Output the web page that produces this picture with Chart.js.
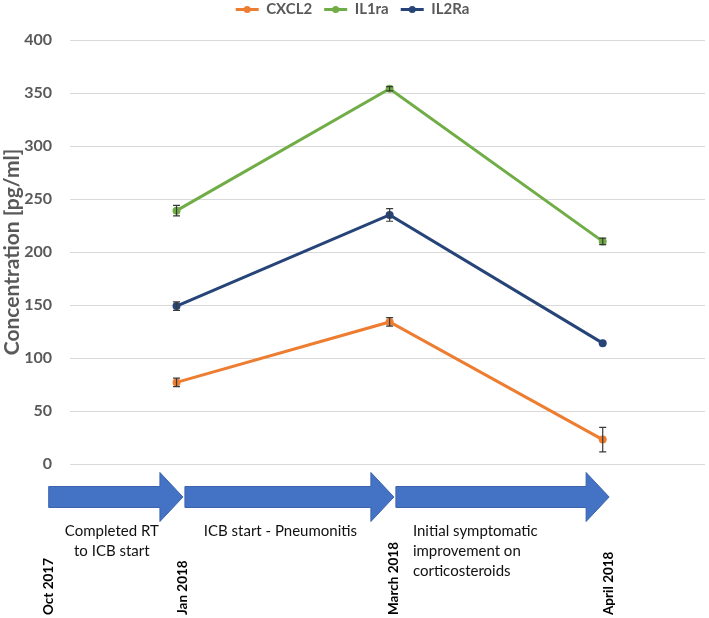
<!DOCTYPE html>
<html>
<head>
<meta charset="utf-8">
<script src="https://cdn.jsdelivr.net/npm/chart.js@4.4.1/dist/chart.umd.min.js"></script>
<style>
  html, body { margin: 0; padding: 0; background: #ffffff; }
  #wrap { width: 709px; height: 618px; position: relative; }
</style>
</head>
<body>
<div id="wrap"><canvas id="c"></canvas></div>
<script>
// ---- data ----
const timelineLabels = ['Oct 2017', 'Jan 2018', 'March 2018', 'April 2018'];
const timelinePos = [0.40, 1.03, 2.02, 3.03];          // where the timeline dates sit on the x scale
const phaseTexts = [
  ['Completed RT', 'to ICB start'],
  ['ICB start - Pneumonitis'],
  ['Initial symptomatic', 'improvement on', 'corticosteroids']
];
const sampleX = [1, 2, 3];                               // Jan 2018, March 2018, April 2018
const cxcl2 = [77, 134, 23];
const cxcl2Err = [4, 4, 11.5];
const il1ra = [239, 354, 210];
const il1raErr = [5, 2, 3];
const il2ra = [149, 235, 114];
const il2raErr = [4, 6, 0];
const yTicks = [0, 50, 100, 150, 200, 250, 300, 350, 400];

const FONT = 'Lato, "Open Sans", sans-serif';
const GREY = '#595959';

function pts(vals) { return vals.map((v, i) => ({ x: sampleX[i], y: v })); }

const errorBarPlugin = {
  id: 'errorBars',
  afterDatasetsDraw(chart) {
    const ctx = chart.ctx, xs = chart.scales.x, ys = chart.scales.y;
    chart.data.datasets.forEach(ds => {
      ds.data.forEach((p, i) => {
        const e = ds.errors[i];
        if (!e) return;
        const x = xs.getPixelForValue(p.x);
        const y1 = ys.getPixelForValue(p.y + e);
        const y2 = ys.getPixelForValue(p.y - e);
        ctx.save();
        ctx.strokeStyle = '#3a3a3a';
        ctx.lineWidth = 1.2;
        ctx.beginPath();
        ctx.moveTo(x, y1); ctx.lineTo(x, y2);
        ctx.moveTo(x - 3.5, y1); ctx.lineTo(x + 3.5, y1);
        ctx.moveTo(x - 3.5, y2); ctx.lineTo(x + 3.5, y2);
        ctx.stroke();
        ctx.restore();
      });
    });
  }
};

// make the legend box a fixed height so the plot starts where the reference's does
const legendHeightPlugin = {
  id: 'legendHeight',
  beforeLayout(chart) {
    const lg = chart.legend;
    if (lg && !lg._fixedH) {
      const origFit = lg.fit.bind(lg);
      lg.fit = function () { origFit(); this.height = 50; };
      lg._fixedH = true;
    }
  }
};

const legendDotPlugin = {
  id: 'legendDots',
  afterDraw(chart) {
    const lg = chart.legend;
    if (!lg || !lg.legendHitBoxes) return;
    const ctx = chart.ctx;
    const bw = lg.options.labels.boxWidth;
    lg.legendHitBoxes.forEach((hb, i) => {
      const ds = chart.data.datasets[i];
      ctx.save();
      ctx.fillStyle = ds.borderColor;
      ctx.beginPath();
      ctx.arc(hb.left + bw / 2, hb.top + hb.height / 2, 3.5, 0, Math.PI * 2);
      ctx.fill();
      ctx.restore();
    });
  }
};

const timelinePlugin = {
  id: 'timeline',
  afterDraw(chart) {
    const ctx = chart.ctx, xs = chart.scales.x, area = chart.chartArea;
    const px = timelinePos.map(v => xs.getPixelForValue(v));
    const cy = area.bottom + 33;
    const bodyHalf = 10.5, headHalf = 24.5, headLen = 23;
    ctx.save();
    for (let i = 0; i < px.length - 1; i++) {
      const x1 = px[i] + (i === 0 ? 0 : 2);
      const x2 = px[i + 1];
      ctx.beginPath();
      ctx.moveTo(x1, cy - bodyHalf);
      ctx.lineTo(x2 - headLen, cy - bodyHalf);
      ctx.lineTo(x2 - headLen, cy - headHalf);
      ctx.lineTo(x2, cy);
      ctx.lineTo(x2 - headLen, cy + headHalf);
      ctx.lineTo(x2 - headLen, cy + bodyHalf);
      ctx.lineTo(x1, cy + bodyHalf);
      ctx.closePath();
      ctx.fillStyle = '#4472C4';
      ctx.fill();
      ctx.strokeStyle = '#3B64AD';
      ctx.lineWidth = 1;
      ctx.stroke();
    }
    // phase texts
    ctx.fillStyle = '#111111';
    ctx.font = '15px ' + FONT;
    ctx.textBaseline = 'middle';
    const ty = area.bottom + 67;
    const lh = 20;
    ctx.textAlign = 'center';
    const c1 = (px[0] + px[1]) / 2 - 4;
    phaseTexts[0].forEach((t, j) => ctx.fillText(t, c1, ty + j * lh));
    const c2 = (px[1] + px[2]) / 2 - 8;
    phaseTexts[1].forEach((t, j) => ctx.fillText(t, c2, ty + j * lh));
    ctx.textAlign = 'left';
    phaseTexts[2].forEach((t, j) => ctx.fillText(t, px[2] + 19, ty + j * lh));
    // rotated dates
    ctx.font = 'bold 13.5px ' + FONT;
    ctx.fillStyle = '#000000';
    px.forEach((x, i) => {
      ctx.save();
      ctx.translate(x, 615);
      ctx.rotate(-Math.PI / 2);
      ctx.textAlign = 'left';
      ctx.textBaseline = 'middle';
      ctx.fillText(timelineLabels[i], 0, 0);
      ctx.restore();
    });
    ctx.restore();
  }
};

function ds(label, vals, errs, color) {
  return {
    label: label,
    data: pts(vals),
    errors: errs,
    borderColor: color,
    backgroundColor: color,
    borderWidth: 3,
    pointRadius: 4,
    pointHoverRadius: 4,
    pointBackgroundColor: color,
    pointBorderColor: color,
    pointBorderWidth: 0,
    tension: 0
  };
}

new Chart(document.getElementById('c'), {
  type: 'line',
  data: {
    datasets: [
      ds('CXCL2', cxcl2, cxcl2Err, '#ED7D31'),
      ds('IL1ra', il1ra, il1raErr, '#70AD47'),
      ds('IL2Ra', il2ra, il2raErr, '#264478')
    ]
  },
  options: {
    responsive: true,
    maintainAspectRatio: false,
    animation: false,
    layout: { padding: { top: -10, right: 4, bottom: 154, left: 0 } },
    plugins: {
      tooltip: { enabled: false },
      legend: {
        position: 'top',
        labels: {
          font: { family: FONT, size: 15, weight: 'bold' },
          color: GREY,
          boxWidth: 23,
          boxHeight: 3,
          padding: 12,
          generateLabels(chart) {
            const items = Chart.defaults.plugins.legend.labels.generateLabels(chart);
            items.forEach(it => { it.lineWidth = 0; it.fillStyle = it.strokeStyle; });
            return items;
          }
        }
      }
    },
    scales: {
      x: {
        type: 'linear',
        min: 0.5,
        max: 3.48,
        display: false
      },
      y: {
        min: 0,
        max: 400,
        afterBuildTicks(scale) { scale.ticks = yTicks.map(v => ({ value: v })); },
        afterFit(scale) { scale.width = 70; },
        border: { display: false },
        grid: { color: '#D9D9D9', lineWidth: 1, drawTicks: false },
        ticks: {
          font: { family: FONT, size: 16, weight: 'bold' },
          color: GREY,
          padding: 18
        },
        title: {
          display: true,
          text: 'Concentration [pg/ml]',
          font: { family: FONT, size: 21, weight: 'bold' },
          color: GREY,
          padding: 0
        }
      }
    }
  },
  plugins: [legendHeightPlugin, errorBarPlugin, legendDotPlugin, timelinePlugin]
});
</script>
</body>
</html>
